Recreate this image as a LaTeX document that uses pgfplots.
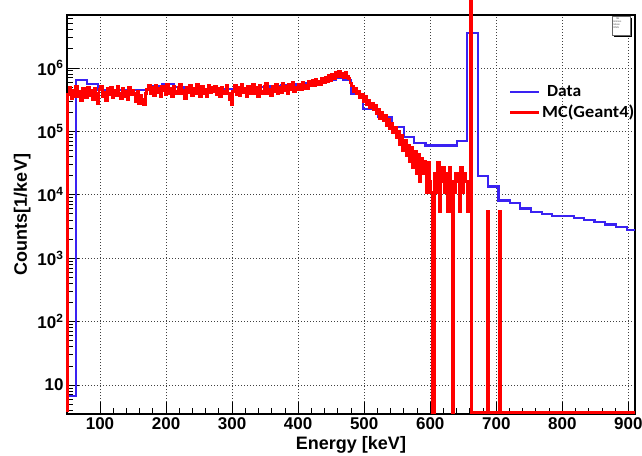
\documentclass[border=0pt]{standalone}
\usepackage{fontspec}
\setmainfont{Liberation Sans}
\newfontfamily\legfont{Carlito}
\usepackage{graphicx}
\usepackage{pgfplots}
\pgfplotsset{compat=1.18}
\definecolor{cData}{HTML}{3A22F2}
\definecolor{cMC}{HTML}{FF0000}

\begin{document}
\begin{tikzpicture}
\useasboundingbox (-67pt,-41pt) rectangle (575pt,414pt);
\begin{axis}[
    scale only axis, width=568pt, height=399pt,
    at={(0,0)}, anchor=south west,
    ymode=log,
    xmin=50, xmax=910, ymin=3.5, ymax=6.85e6,
    clip=false,
    xtick={100,200,...,900},
    xticklabels={100,200,300,400,500,600,700,800,900},
    minor x tick num=4,
    ytick={10,100,1000,10000,100000,1000000},
    yticklabels={10,10\textsuperscript{2},10\textsuperscript{3},10\textsuperscript{4},10\textsuperscript{5},10\textsuperscript{6}},
    minor ytick={4,5,6,7,8,9,20,30,40,50,60,70,80,90,200,300,400,500,600,700,800,900,
      2000,3000,4000,5000,6000,7000,8000,9000,2e4,3e4,4e4,5e4,6e4,7e4,8e4,9e4,
      2e5,3e5,4e5,5e5,6e5,7e5,8e5,9e5,2e6,3e6,4e6,5e6,6e6},
    xtick pos=left, ytick pos=left,
    tick align=inside,
    major tick length=12pt, minor tick length=6pt,
    tick style={black, line width=0.9pt},
    grid=major,
    major grid style={black!75, line width=0.7pt, dash pattern=on 1pt off 2pt},
    axis line style={black, line width=1.6pt},
    tick label style={font=\fontsize{17}{17}\selectfont\bfseries},
    xlabel={Energy [keV]},
    ylabel={Counts[1/keV]},
    label style={font=\fontsize{18}{18}\selectfont\bfseries},
    legend style={draw=none, fill=none, at={(rel axis cs:1.0,0.781)}, anchor=east,
      font=\legfont\bfseries\fontsize{17}{17}\selectfont, row sep=6pt, inner sep=0pt,
      nodes={inner sep=0.6pt}, column sep=1pt},
    legend cell align=left,
    legend image code/.code={\draw[#1] (0pt,0pt) -- (29pt,0pt);},
]

% Data histogram (left bin edges)
\addplot[const plot, color=cData, line width=2.3pt] coordinates {
(50,6.8) (64,6.8) (64,6.5e5) (80.3,5.6e5) (96.7,4.5e5) (178.5,5.2e5) (194.8,5.6e5)
(211.2,5.0e5) (227.5,4.8e5) (243.9,4.7e5) (260.2,4.6e5) (276.6,4.6e5) (292.9,4.7e5)
(309.3,4.8e5) (325.6,4.9e5) (342,5.0e5) (358.3,5.1e5) (374.7,5.3e5) (391,5.5e5)
(407.4,5.8e5) (423.7,6.2e5) (440,6.6e5) (456.4,7.1e5) (468,6.5e5) (479.8,3.9e5)
(498.5,2.25e5) (521.3,1.7e5) (542.1,1.18e5) (559.8,8.2e4) (575,6.5e4) (592.8,6.0e4)
(641,7.0e4) (655.1,3.6e6) (672.3,2.0e4) (687.5,1.35e4) (703.3,8.1e3) (720.5,7.4e3)
(736.2,6.1e3) (752.5,5.3e3) (768.7,5.0e3) (784,4.6e3) (817.4,4.3e3) (832.6,4.0e3)
(848.7,3.75e3) (865,3.4e3) (881.7,3.1e3) (897.4,2.8e3) (910,2.8e3)
};
\addlegendentry{\hspace{5pt}\resizebox{34pt}{\height}{Data}}

% MC (Geant4) histogram, 2.5 keV bins (left bin edges)
\addplot[const plot, color=cMC, line width=2.9pt] coordinates {
(51,3.7)
(51,3.8e5) (53.5,4.9e5) (56,3.3e5) (58.5,4.4e5) (61,3.5e5) (63.5,5.1e5) (66,3.6e5) (68.5,4.2e5)
(71,3.1e5) (73.5,4.7e5) (76,4.1e5) (78.5,3.4e5) (81,5.0e5) (83.5,3.7e5) (86,4.5e5) (88.5,3.2e5)
(91,4.8e5) (93.5,3.9e5) (96,2.8e5) (98.5,4.6e5)
(101,5.2e5) (103.5,3.6e5) (106,4.1e5) (108.5,3.1e5) (111,4.7e5) (113.5,3.8e5) (116,5.0e5)
(118.5,3.4e5) (121,4.4e5) (123.5,3.7e5) (126,5.2e5) (128.5,3.9e5) (131,3.3e5) (133.5,4.8e5)
(136,3.6e5) (138.5,4.3e5) (141,3.2e5) (143.5,5.0e5) (146,3.8e5) (148.5,4.5e5)
(151,3.9e5) (153.5,3.0e5) (156,4.2e5) (158.5,2.8e5) (161,3.7e5) (163.5,3.2e5) (166,2.7e5) (168.5,3.9e5)
(171,4.6e5) (173.5,5.4e5) (176,3.9e5) (178.5,4.9e5) (181,3.7e5) (183.5,5.3e5) (186,4.1e5)
(188.5,4.7e5) (191,3.6e5) (193.5,5.1e5) (196,4.4e5) (198.5,3.8e5) (201,5.5e5) (203.5,4.0e5)
(206,4.8e5) (208.5,3.5e5) (211,5.2e5) (213.5,4.2e5) (216,3.9e5) (218.5,5.0e5)
(221,5.6e5) (223.5,3.9e5) (226,4.4e5) (228.5,3.3e5) (231,5.0e5) (233.5,4.1e5) (236,5.3e5)
(238.5,3.7e5) (241,4.7e5) (243.5,4.0e5) (246,5.5e5) (248.5,4.2e5) (251,3.6e5) (253.5,5.1e5)
(256,3.9e5) (258.5,4.6e5) (261,3.5e5) (263.5,5.4e5) (266,4.1e5) (268.5,4.9e5)
(271,4.3e5) (273.5,5.2e5) (276,3.8e5) (278.5,4.8e5) (281,3.6e5) (283.5,5.0e5) (286,4.2e5)
(288.5,3.9e5) (291,5.3e5) (293.5,4.0e5) (296,3.2e5) (298.5,2.7e5)
(301,4.3e5) (303.5,5.4e5) (306,3.8e5) (308.5,4.9e5) (311,3.7e5) (313.5,5.6e5) (316,4.1e5)
(318.5,4.8e5) (321,3.6e5) (323.5,5.2e5) (326,4.5e5) (328.5,3.9e5) (331,5.5e5) (333.5,4.0e5)
(336,4.9e5) (338.5,3.6e5) (341,5.3e5) (343.5,4.3e5) (346,3.9e5) (348.5,5.1e5) (351,5.7e5)
(353.5,4.0e5) (356,4.6e5) (358.5,3.7e5)
(361,5.2e5) (363.5,4.3e5) (366,5.6e5) (368.5,3.9e5) (371,4.9e5) (373.5,4.1e5) (376,5.7e5)
(378.5,4.4e5) (381,5.1e5) (383.5,3.9e5) (386,5.5e5) (388.5,4.6e5) (391,5.9e5) (393.5,4.3e5)
(396,5.0e5) (398.5,4.5e5)
(401,5.6e5) (403.5,4.6e5) (406,5.9e5) (408.5,4.8e5) (411,5.4e5) (413.5,4.7e5) (416,6.1e5) (418.5,5.2e5)
(421,6.3e5) (423.5,5.3e5) (426,6.6e5) (428.5,5.5e5) (431,6.2e5) (433.5,5.4e5) (436,6.9e5) (438.5,6.0e5)
(441,7.2e5) (443.5,6.1e5) (446,7.5e5) (448.5,6.4e5) (451,7.9e5) (453.5,6.8e5)
(456,8.4e5) (458.5,7.2e5) (461,8.7e5) (463.5,7.4e5) (466,8.1e5) (468.5,7.0e5) (471,8.5e5) (473.5,7.3e5)
(476,6.9e5) (478.5,5.8e5)
(481,5.2e5) (483.5,4.2e5) (486,4.8e5) (488.5,3.9e5) (491,4.3e5) (493.5,3.4e5) (496,3.8e5)
(498.5,3.0e5) (501,3.5e5) (503.5,2.7e5) (506,3.1e5) (508.5,2.4e5) (511,2.8e5) (513.5,2.2e5)
(516,2.6e5) (518.5,1.9e5) (521,2.2e5) (523.5,1.6e5) (526,2.0e5) (528.5,1.5e5) (531,1.8e5)
(533.5,1.25e5) (536,1.55e5) (538.5,1.1e5) (541,1.35e5) (543.5,9.5e4) (546,1.15e5) (548.5,8.0e4)
(551,1.0e5) (553.5,6.2e4) (556,8.5e4) (558.5,5.0e4) (561,7.2e4) (563.5,4.2e4) (566,6.0e4)
(568.5,3.3e4) (571,5.5e4) (573.5,2.7e4) (576,4.8e4) (578.5,2.2e4) (581,4.3e4) (583.5,1.6e4)
(586,3.8e4) (588.5,2.2e4) (591,3.3e4) (593.5,1.1e4) (596,3.2e4) (598.5,1.6e4)
(601,1.1e4) (603.5,3.7) (606,2.2e4) (608.5,1.1e4) (611,3.2e4) (613.5,5.4e3) (616,1.6e4)
(618.5,2.7e4) (621,1.1e4) (623.5,2.2e4) (626,5.4e3) (628.5,2.7e4) (631,1.6e4) (633.5,3.7)
(636,1.1e4) (638.5,2.2e4) (641,1.6e4) (643.5,5.4e3) (646,2.7e4) (648.5,1.1e4) (651,2.2e4)
(653.5,1.6e4) (656,5.4e3) (658.5,5.4e3) (660.5,1.2e7)
(663,3.7) (686.5,5.4e3) (689,3.7) (704.5,5.4e3) (707,3.7) (910,3.7)
};
\addlegendentry{\resizebox{92pt}{\height}{MC(Geant4)}}

% statistics box
\fill[black] (rel axis cs:0.963,0.993) rectangle (rel axis cs:0.995,0.944);
\draw[black!60, fill=white, line width=0.4pt] (rel axis cs:0.959,0.997) rectangle (rel axis cs:0.991,0.949);
\node[font=\fontsize{2.5}{3}\selectfont, text=black!70, align=left, anchor=north west, inner sep=0.5pt]
  at (rel axis cs:0.961,0.995) {\ \ \ \ hE\\Entries\\Mean\\RMS};
\end{axis}
\end{tikzpicture}
\end{document}
